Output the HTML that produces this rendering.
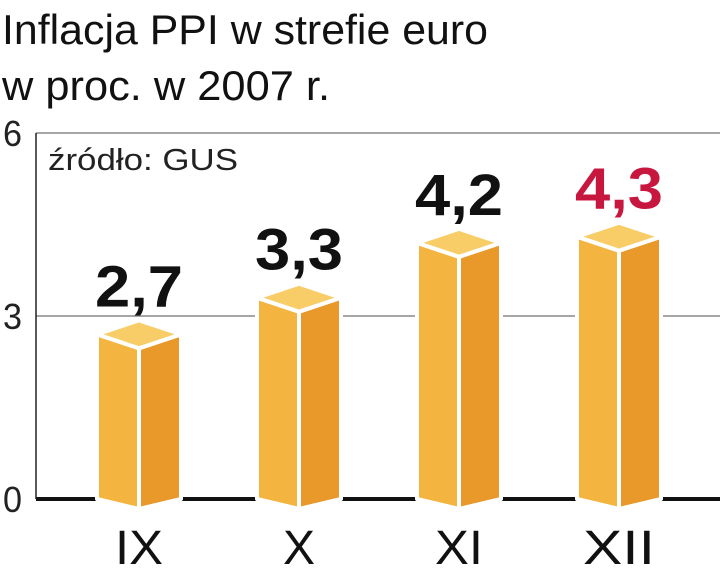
<!DOCTYPE html>
<html><head><meta charset="utf-8"><style>
html,body{margin:0;padding:0;background:#fff;}
svg{display:block;}
text{font-family:"Liberation Sans Narrow","Liberation Sans",sans-serif;}
</style></head><body>
<svg width="720" height="574" viewBox="0 0 720 574">
<text x="2" y="44" font-size="42" fill="#111" textLength="486" lengthAdjust="spacingAndGlyphs">Inflacja PPI w strefie euro</text>
<text x="2" y="100" font-size="42" fill="#111" textLength="328" lengthAdjust="spacingAndGlyphs">w proc. w 2007 r.</text>
<g id="grid"></g>
<text x="48" y="170" font-size="31" fill="#222" textLength="190" lengthAdjust="spacingAndGlyphs">źródło: GUS</text>
<g id="bars"></g>
</svg>
<script>
const categories=["IX","X","XI","XII"];
const values=[2.7,3.3,4.2,4.3];
const valueLabels=["2,7","3,3","4,2","4,3"];
const tickValues=[0,3,6];
const tickLabels=["0","3","6"];
const NS="http://www.w3.org/2000/svg";
const y0=499, unit=61, xStart=139, step=160, halfW=42, dh=14;
const yS=v=>y0-v*unit;
const xS=i=>xStart+i*step;
function mk(tag,attrs,parent){const e=document.createElementNS(NS,tag);for(const k in attrs)e.setAttribute(k,attrs[k]);parent.appendChild(e);return e;}
const grid=document.getElementById('grid');
tickValues.forEach((t,i)=>{
  const y=yS(t);
  const l=mk('line',{x1:36,x2:720,y1:y,y2:y,stroke:t===0?'#111':'#888','stroke-width':t===0?4:1.5},grid);
  
  
  const tx=mk('text',{x:3,y:y+13,'font-size':36,fill:'#222',textLength:19,lengthAdjust:'spacingAndGlyphs'},grid);
  tx.textContent=tickLabels[i];
  
  
});
const ax=mk('line',{x1:36,x2:36,y1:yS(6),y2:y0,stroke:'#222','stroke-width':1.5},grid);


const bars=document.getElementById('bars');
values.forEach((v,i)=>{
  const cx=xS(i), yt=yS(v);
  const g=mk('g',{stroke:'#fff','stroke-width':4,'stroke-linejoin':'round'},bars);
  
  
  mk('polygon',{points:`${cx-halfW},${yt} ${cx},${yt+dh} ${cx},${y0+10} ${cx-halfW},${y0}`,fill:'#F3B540'},g);
  mk('polygon',{points:`${cx},${yt+dh} ${cx+halfW},${yt} ${cx+halfW},${y0} ${cx},${y0+10}`,fill:'#E8992A'},g);
  mk('polygon',{points:`${cx-halfW},${yt} ${cx},${yt-dh} ${cx+halfW},${yt} ${cx},${yt+dh}`,fill:'#F8CC66'},g);
  const lb=mk('text',{x:cx,y:yt-28,'font-size':58,'font-weight':'bold','text-anchor':'middle',fill:i===3?'#C8173F':'#111',textLength:88,lengthAdjust:'spacingAndGlyphs'},bars);
  lb.textContent=valueLabels[i];
  
  
  const n=categories[i].length;
  const attrs={x:cx,y:564,'font-size':48,'text-anchor':'middle',fill:'#111'};
  if(n>1){attrs.textLength=n*24;attrs.lengthAdjust='spacingAndGlyphs';}
  const cl=mk('text',attrs,bars);
  cl.textContent=categories[i];
  
  
});
</script>
</body></html>
